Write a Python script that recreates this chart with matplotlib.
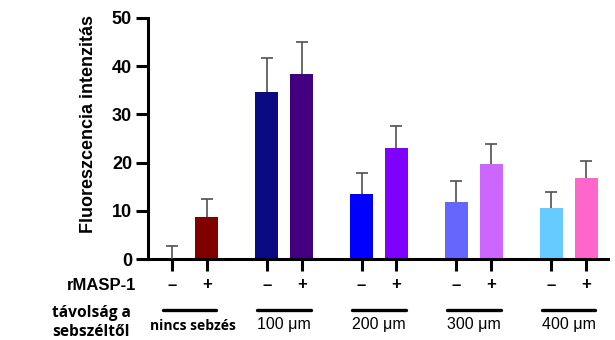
import matplotlib
matplotlib.use("Agg")
import matplotlib.pyplot as plt
import matplotlib.transforms as mtransforms
import numpy as np

groups = ["nincs sebzés", "100 \u03bcm", "200 \u03bcm", "300 \u03bcm", "400 \u03bcm"]
signs = ["\u2013", "+"]
minus_vals = [0.0, 34.6, 13.4, 11.8, 10.6]
minus_err = [2.8, 7.1, 4.5, 4.3, 3.2]
plus_vals = [8.8, 38.4, 23.0, 19.8, 16.9]
plus_err = [3.6, 6.6, 4.5, 4.0, 3.4]
minus_colors = ["#7f0000", "#0a0a82", "#0000ff", "#6666ff", "#66ccff"]
plus_colors = ["#800000", "#420080", "#7f00ff", "#cc66ff", "#ff66cc"]
yticks = [0, 10, 20, 30, 40, 50]
ylabel = "Fluoreszcencia intenzitás"
row1_label = "rMASP-1"
row2_label = "távolság a\nsebszéltől"

fig = plt.figure(figsize=(6.15, 3.4), dpi=100)
ax = fig.add_axes([148/615, 1-259/340, (608-148)/615, (259-18)/340])

gap = 95/35
n = len(groups)
xm = np.arange(n) * gap
xp = xm + 1
w = 23/35

ax.bar(xm, minus_vals, width=w, color=minus_colors, zorder=2)
ax.bar(xp, plus_vals, width=w, color=plus_colors, zorder=2)
for xs, vals, errs in [(xm, minus_vals, minus_err), (xp, plus_vals, plus_err)]:
    tops = np.array(vals) + np.array(errs)
    ax.vlines(xs, vals, tops, color="#505050", lw=1.2, zorder=3)
    ax.plot(xs, tops, linestyle="none", marker="_", markersize=9, markeredgewidth=1.2,
            color="#505050", zorder=3)

ax.set_xlim(-24/35, xp[-1] + 22/35)
ax.set_ylim(0, 50)
ax.set_yticks(yticks)
ax.set_yticklabels([str(t) for t in yticks], fontsize=13, fontweight="bold", family="Liberation Sans")
xt = np.sort(np.concatenate([xm, xp]))
ax.set_xticks(xt)
ax.set_xticklabels([])
ax.tick_params(axis="both", direction="out", length=8.5, width=2.2, color="black")
ax.tick_params(axis="y", pad=3)
for s in ["top", "right"]:
    ax.spines[s].set_visible(False)
for s in ["left", "bottom"]:
    ax.spines[s].set_linewidth(2.2)
ax.set_ylabel(ylabel, fontsize=13, fontweight="bold", family="Liberation Sans")
ax.yaxis.set_label_coords(-(148-97)/460, (259-124)/241)

trans = mtransforms.blended_transform_factory(ax.transData, fig.transFigure)
def fy(py):
    return 1 - py/340

for i in range(n):
    ax.text(xm[i], fy(285), signs[0], transform=trans, ha="center", va="center",
            fontsize=12, fontweight="bold", family="Liberation Sans")
    ax.text(xp[i], fy(285), signs[1], transform=trans, ha="center", va="center",
            fontsize=12, fontweight="bold", family="Liberation Sans")
    ax.plot([xm[i] - 0.27, xp[i] + 0.27], [fy(310), fy(310)], transform=trans, color="black",
            lw=2.4, clip_on=False, solid_capstyle="round")
    if i == 0:
        ax.text((xm[i] + xp[i]) / 2 + 0.1, fy(326), groups[i], transform=trans, ha="center", va="center",
                fontsize=10, fontweight="bold", family="Open Sans")
    else:
        ax.text((xm[i] + xp[i]) / 2, fy(325), groups[i], transform=trans, ha="center", va="center",
                fontsize=11.5, family="Liberation Sans")

fig.text(136/615, fy(285), row1_label, ha="right", va="center", fontsize=12, fontweight="bold",
         family="Liberation Sans")
fig.text(52/615, fy(322.5), row2_label, ha="left", va="center", fontsize=11.2, fontweight="bold",
         family="Open Sans", linespacing=1.22)

fig.savefig("out.png", dpi=100)
